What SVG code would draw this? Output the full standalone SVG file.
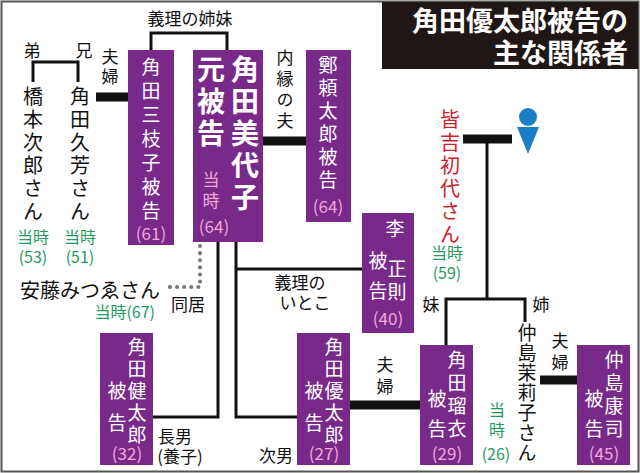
<svg xmlns="http://www.w3.org/2000/svg" width="640" height="473" viewBox="0 0 640 473">
<style>
text{font-family:"Noto Sans CJK JP","Noto Sans",sans-serif}
.n{fill:#78298a}
.w{fill:#fff;font-size:19px;text-anchor:middle}
.wb{fill:#fff;font-size:28px;font-weight:bold;text-anchor:middle}
.p{fill:#f4a6d8;font-size:17px;text-anchor:middle}
.k{fill:#111;font-size:17px;text-anchor:middle}
.kb{fill:#111;font-size:20px;text-anchor:middle}
.g{fill:#1f9a5c;font-size:16px;text-anchor:middle}
.l{stroke:#111;stroke-width:3;fill:none}
.b{stroke:#111;stroke-width:9;fill:none}
.v{writing-mode:vertical-rl;text-orientation:upright;text-anchor:start}
</style>
<rect x="1.5" y="1.5" width="637" height="470" fill="#fff" stroke="#555" stroke-width="2"/>
<g id="title">
<rect x="382" y="2" width="256" height="67" fill="#1f1715"/>
<text x="628" y="31" fill="#fff" font-size="27" font-weight="bold" text-anchor="end">角田優太郎被告の</text>
<text x="628" y="63" fill="#fff" font-size="27" font-weight="bold" text-anchor="end">主な関係者</text>
</g>
<g id="connectors">
<path class="l" d="M151 50V33H227V50"/>
<path class="l" d="M33 82V62H78V82"/>
<path class="b" d="M96 97H128"/>
<path class="b" d="M263 141H306"/>
<path class="b" d="M463 139H512"/>
<path class="l" d="M487 139V299M446 345V299H525V322"/>
<path class="b" d="M540 380H577"/>
<path class="b" d="M350 405H420"/>
<path class="l" d="M218 242V417H153"/>
<path class="l" d="M236 242V417H297M236 269H362"/>
<path d="M200 246V287H168" stroke="#777" stroke-width="4" stroke-dasharray="0.1 7" stroke-linecap="round" fill="none"/>
</g>
<g id="labels">
<text class="k" x="190" y="25">義理の姉妹</text>
<text class="k" x="32" y="57">弟</text>
<text class="k" x="84" y="57">兄</text>
<text class="k v" x="110" y="48" letter-spacing="3">夫婦</text>
<text class="k v" x="285" y="49" letter-spacing="4">内縁の夫</text>
<text class="kb v" x="33" y="86" letter-spacing="3">橋本次郎さん</text>
<text class="kb v" x="80" y="86" letter-spacing="3">角田久芳さん</text>
<text class="g" x="33" y="243">当時</text><text class="g" x="33" y="263">(53)</text>
<text class="g" x="80" y="243">当時</text><text class="g" x="80" y="263">(51)</text>
<text x="160" y="298" fill="#111" font-size="20" text-anchor="end">安藤みつゑさん</text>
<text class="g" x="155" y="318" style="text-anchor:end">当時(67)</text>
<text class="k" x="188" y="311">同居</text>
<text class="k" x="300" y="289">義理の</text><text class="k" x="305" y="309">いとこ</text>
<text class="k" x="175" y="443">長男</text><text class="k" x="180" y="463">(養子)</text>
<text class="k" x="276" y="462">次男</text>
<text class="v" x="450" y="109" fill="#d0202a" font-size="20" letter-spacing="3">皆吉初代さん</text>
<text class="g" x="447" y="259">当時</text><text class="g" x="447" y="279">(59)</text>
<text class="k" x="431" y="311">妹</text><text class="k" x="541" y="311">姉</text>
<text class="v" x="527" y="323" fill="#111" font-size="19" letter-spacing="1">仲島茉莉子さん</text>
<text class="g v" x="497" y="402" letter-spacing="4">当時</text><text class="g" x="496" y="460">(26)</text>
<text class="k v" x="560" y="332" letter-spacing="5">夫婦</text>
<text class="k v" x="385" y="356" letter-spacing="5">夫婦</text>
<g fill="#1a7fc8"><circle cx="528" cy="117" r="9"/><path d="M517 127H539L528 154Z"/></g>
</g>
<g id="n-mieko">
<rect class="n" x="128" y="50" width="46" height="195"/>
<text class="w v" x="151" y="57" letter-spacing="5">角田三枝子被告</text>
<text class="p" x="151" y="240">(61)</text>
</g>
<g id="n-miyoko">
<rect class="n" x="193" y="50" width="70" height="192"/>
<text class="wb v" x="245" y="55" letter-spacing="4">角田美代子</text>
<text class="wb v" x="211" y="55" letter-spacing="4">元被告</text>
<text class="p v" x="211" y="171" letter-spacing="4">当時</text><text class="p" x="214" y="233">(64)</text>
</g>
<g id="n-tei">
<rect class="n" x="306" y="50" width="45" height="172"/>
<text class="w v" x="328" y="55" letter-spacing="4">鄭頼太郎被告</text>
<text class="p" x="328" y="213">(64)</text>
</g>
<g id="n-ri">
<rect class="n" x="362" y="213" width="52" height="120"/>
<text class="w v" x="395" y="219">李</text>
<text class="w v" x="378" y="251" letter-spacing="11">被告</text>
<text class="w v" x="397" y="259" letter-spacing="4">正則</text>
<text class="p" x="388" y="325">(40)</text>
</g>
<g id="n-kentaro">
<rect class="n" x="100" y="333" width="53" height="132"/>
<text class="w v" x="137" y="337" letter-spacing="3">角田健太郎</text>
<text class="w v" x="117" y="381" letter-spacing="13">被告</text>
<text class="p" x="127" y="460">(32)</text>
</g>
<g id="n-yutaro">
<rect class="n" x="297" y="333" width="53" height="132"/>
<text class="w v" x="334" y="337" letter-spacing="3">角田優太郎</text>
<text class="w v" x="314" y="381" letter-spacing="13">被告</text>
<text class="p" x="324" y="460">(27)</text>
</g>
<g id="n-rui">
<rect class="n" x="420" y="345" width="53" height="120"/>
<text class="w v" x="457" y="350" letter-spacing="4">角田瑠衣</text>
<text class="w v" x="437" y="389" letter-spacing="11">被告</text>
<text class="p" x="447" y="460">(29)</text>
</g>
<g id="n-koji">
<rect class="n" x="577" y="345" width="53" height="120"/>
<text class="w v" x="614" y="350" letter-spacing="4">仲島康司</text>
<text class="w v" x="594" y="389" letter-spacing="11">被告</text>
<text class="p" x="604" y="460">(45)</text>
</g>
</svg>
